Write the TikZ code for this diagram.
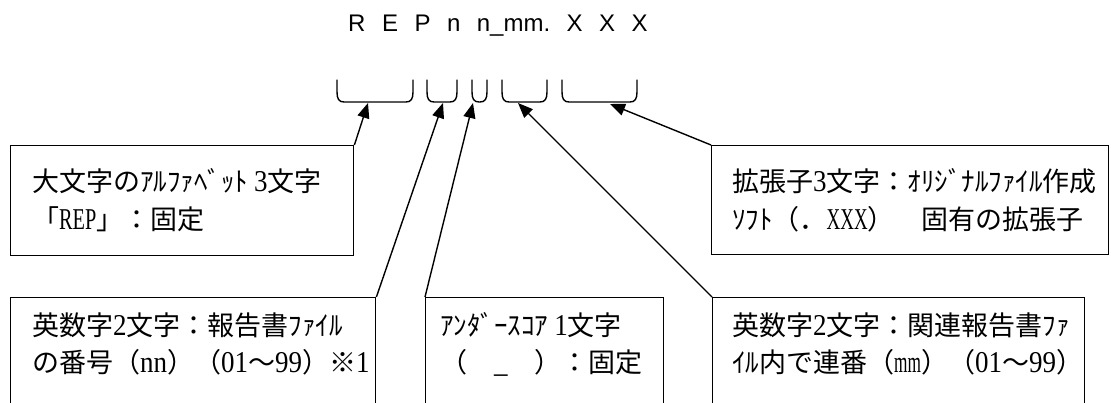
\documentclass[tikz,border=0pt]{standalone}
\usepackage{fontspec}
\setmainfont{Liberation Sans}
\newfontfamily\jp{Noto Sans CJK JP}
\newfontfamily\ltf{Liberation Serif}
\usetikzlibrary{arrows.meta}
\newcommand\tg{\hspace{16.5pt}}
\newcommand\La[1]{\scalebox{1}[1.12]{\ltf #1}}
\newcommand\Ln[2]{\scalebox{#1}[1.12]{\ltf #2}}
\newcommand\brk[2]{%
  \draw[brkline] (#1,80) -- (#1,92) .. controls (#1,99) and (#1+2,102) .. (#1+7,102)
    -- (#2-7,102) .. controls (#2-2,102) and (#2,99) .. (#2,92) -- (#2,80);}
\begin{document}
\begin{tikzpicture}[x=1pt,y=-1pt,
  box/.style={draw, line width=1.4pt, anchor=north west, inner sep=0pt},
  txt/.style={anchor=base west, inner sep=0pt, font=\jp\fontsize{27}{37}\selectfont},
  brkline/.style={line width=1.4pt, line cap=round},
  arr/.style={line width=1.4pt, -{Triangle[length=15pt,width=12pt]}},
  ttl/.style={anchor=base west, inner sep=0pt, font=\fontsize{24}{24}\selectfont}]
\clip (0,0) rectangle (1111,403);
\fill[white] (0,0) rectangle (1111,403);
% title
\node[ttl] (title) at (348,32) {R\tg E\tg P\tg n\tg n\_mm.\tg X\tg X\tg X};
% brackets
\brk{337}{413}
\brk{427}{457}
\brk{472}{487}
\brk{502}{547}
\brk{562}{637}
\coordinate (k1) at (368,103);
\coordinate (k2) at (443,103);
\coordinate (k3) at (473,103);
\coordinate (k4) at (518,103);
\coordinate (k5) at (610,104);
% boxes
\node[box, minimum width=343pt, minimum height=110pt] (b1) at (10,145) {};
\node[box, minimum width=397pt, minimum height=109pt] (b5) at (711,145) {};
\node[box, minimum width=365pt, minimum height=150pt] (bA) at (10,297) {};
\node[box, minimum width=238pt, minimum height=150pt] (bB) at (425,297) {};
\node[box, minimum width=372pt, minimum height=150pt] (bC) at (712,297) {};
% texts
\node[txt] (t1a) at (32,191.5) {大文字のｱﾙﾌｧﾍﾞｯﾄ \La{3}文字};
\node[txt] (t1b) at (32,229.5) {「\Ln{0.75}{REP}」：固定};
\node[txt] (t5a) at (732,191.5) {拡張子\La{3}文字：ｵﾘｼﾞﾅﾙﾌｧｲﾙ作成};
\node[txt] (t5b) at (732,229.5) {ｿﾌﾄ（．\Ln{0.7}{XXX}）　固有の拡張子};
\node[txt] (tAa) at (32,335.5) {英数字\La{2}文字：報告書ﾌｧｲﾙ};
\node[txt] (tAb) at (32,372.5) {の番号（\La{nn}）（\La{01}～\La{99}）※\La{1}};
\node[txt] (tBa) at (440,335.5) {ｱﾝﾀﾞｰｽｺｱ \La{1}文字};
\node[txt] (tBb) at (440,372.5) {（　\La{\_}　）：固定};
\node[txt] (tCa) at (732,335.5) {英数字\La{2}文字：関連報告書ﾌｧ};
\node[txt] (tCb) at (732,372.5) {ｲﾙ内で連番（\Ln{0.64}{mm}）（\La{01}～\La{99}）};
% arrows
\draw[arr] (b1.north east) -- (k1);
\draw[arr] (bA.north east) -- (k2);
\draw[arr] (bB.north west) -- (k3);
\draw[arr] (bC.north west) -- (k4);
\draw[arr] (b5.north west) -- (k5);
\end{tikzpicture}
\end{document}
